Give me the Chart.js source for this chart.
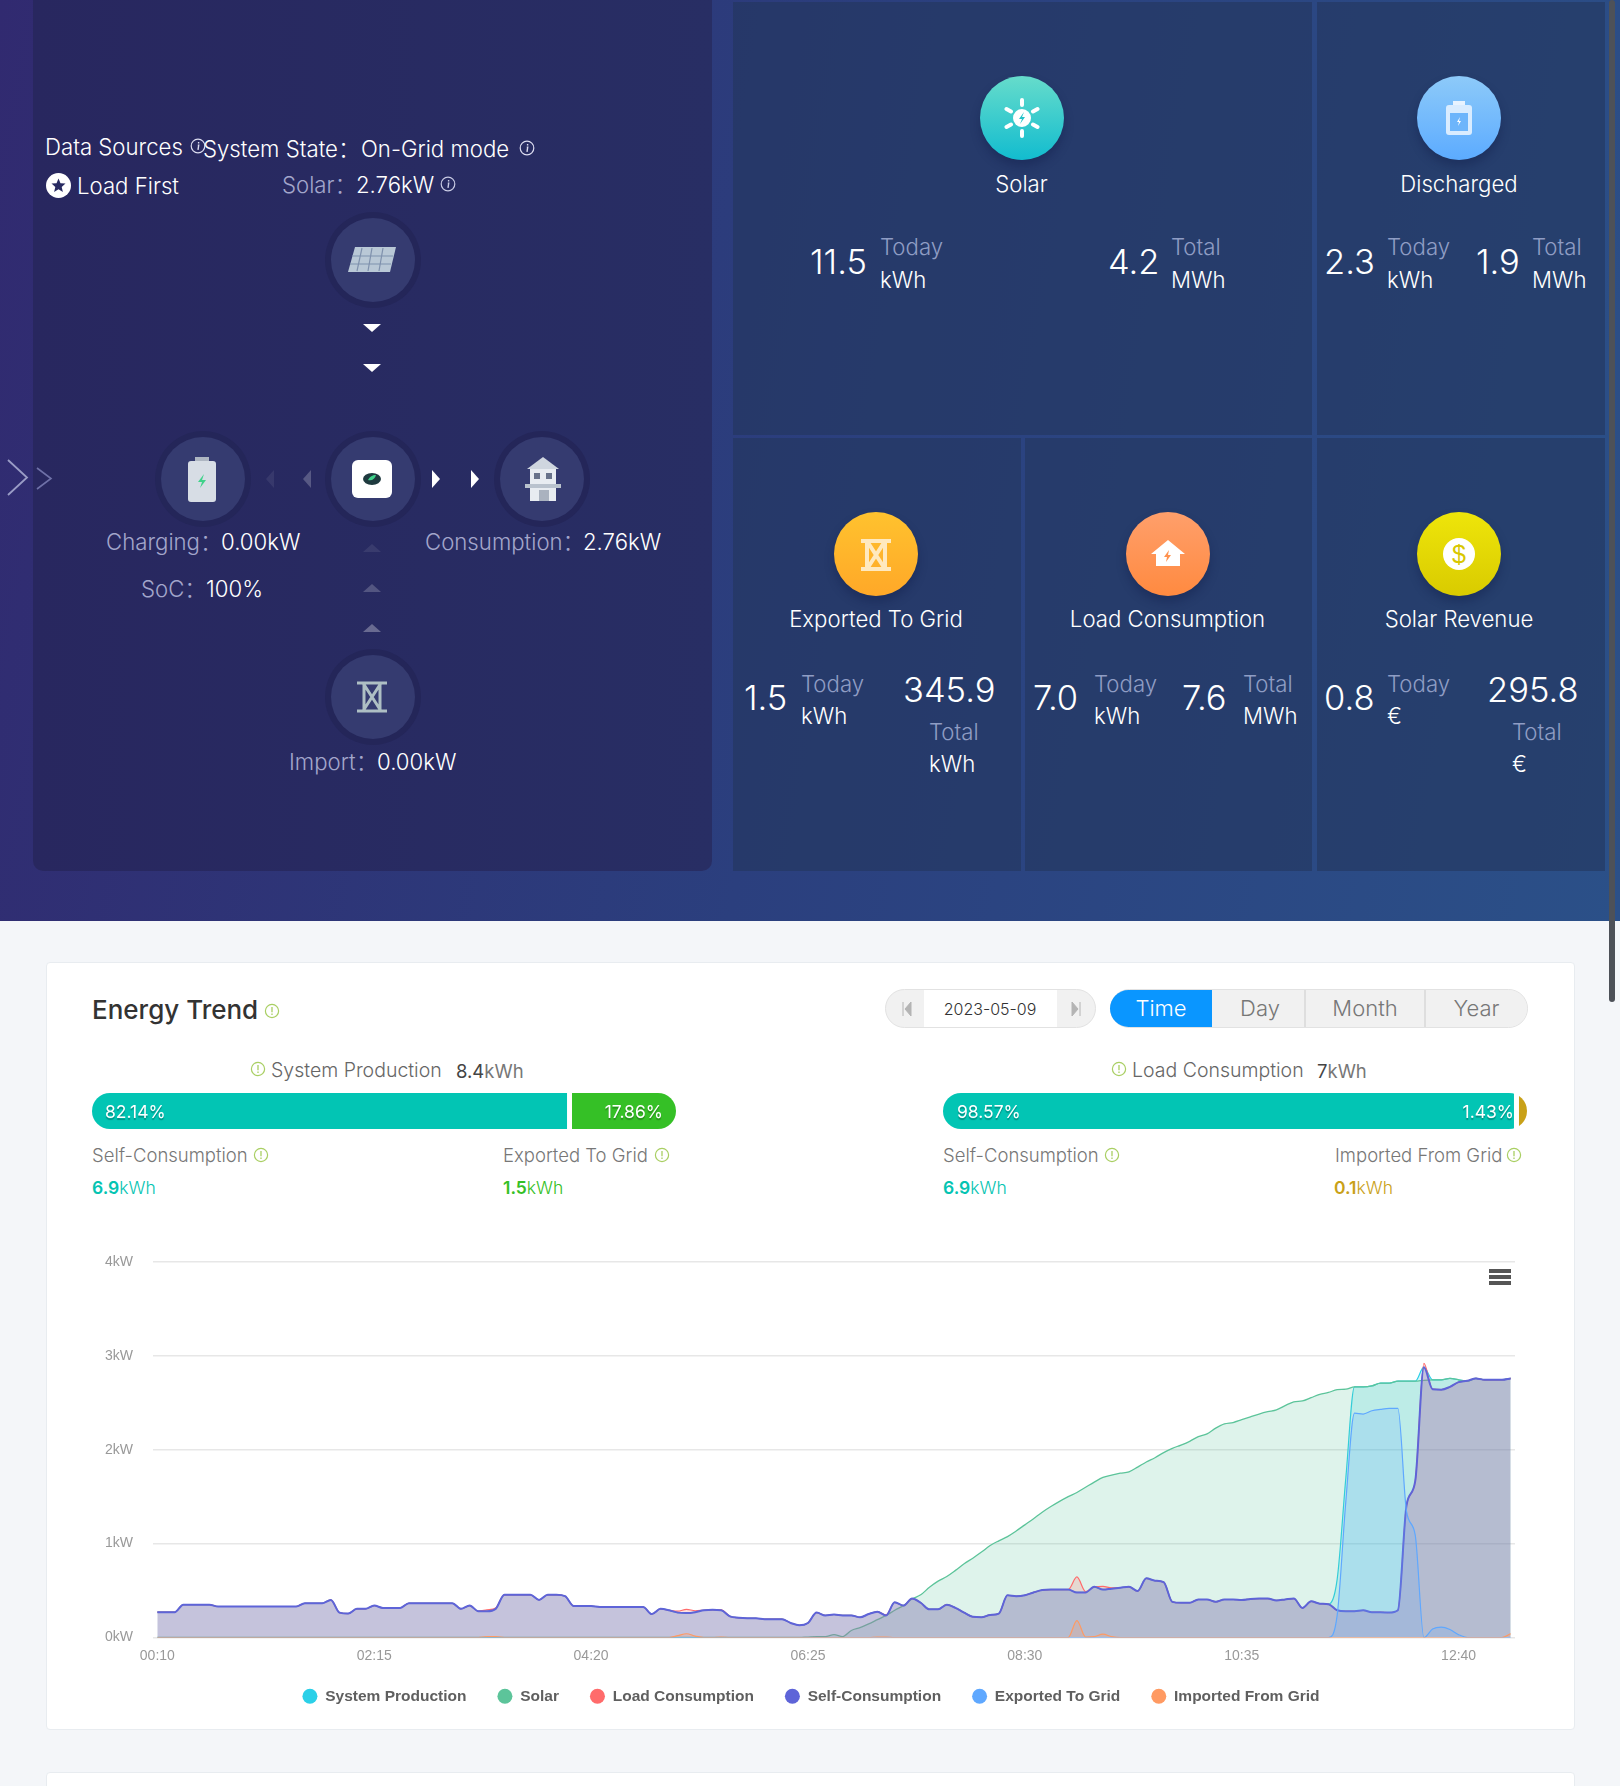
<!DOCTYPE html>
<html><head><meta charset="utf-8"><title>Energy Trend</title>
<script src="https://cdn.jsdelivr.net/npm/chart.js@4/dist/chart.umd.js"></script>
<style>
html,body{margin:0;padding:0;width:1620px;height:1786px;overflow:hidden;background:#f4f6f9;font-family:Inter,"Noto Sans CJK SC",sans-serif}
#root{position:relative;width:1620px;height:1786px;overflow:hidden}
.a{position:absolute}
.t{position:absolute;white-space:nowrap;transform:translateY(-50%);line-height:1}
.c{transform:translate(-50%,-50%)}
.r{transform:translate(-100%,-50%)}
#hero{left:0;top:0;width:1620px;height:921px;background:linear-gradient(100deg,#312a70 0%,#2b3f7e 50%,#2b5088 100%)}
#panel{left:33px;top:-10px;width:679px;height:881px;border-radius:10px;background:linear-gradient(90deg,#28275f,#282e64)}
.tile{position:absolute;background:rgba(34,54,92,.58)}
.w{color:#fff;font-size:22.200px;font-weight:300}
.d{color:#a3a6cb;font-size:22.200px;font-weight:300}
.n{color:#fff;font-size:34.500px;font-weight:300}
.l{color:#8f9dc4;font-size:22.200px;font-weight:300}
.card{position:absolute;background:#fff;border:1px solid #e8ecf0;border-radius:4px;box-sizing:border-box}
.node{position:absolute;width:84px;height:84px;margin:-42px 0 0 -42px;border-radius:50%;background:#353b70;box-shadow:0 0 0 6px #242659}
.ic{position:absolute;width:84px;height:84px;margin:-42px 0 0 -42px;border-radius:50%;box-shadow:0 6px 10px rgba(15,25,70,.35)}
.g{color:#666;font-size:19.500px;font-weight:300}
.s{color:#777;font-size:18.500px;font-weight:300}
.v{font-size:17.500px;font-weight:300}
.v b{font-weight:600}
.tab{position:absolute;top:990px;height:37px;line-height:37px;text-align:center;font-size:22px;font-weight:300;color:#777;background:#f1f1f1;border-right:2px solid #dedede;box-sizing:border-box}
.pct{color:#fff;font-size:17.500px;font-weight:400;text-shadow:0 2px 1px rgba(0,0,0,.28)}
canvas{display:block}
#barLeft,#barRight{border-radius:18px}
</style></head><body><div id="root">
<div id="hero" class="a"></div><div id="panel" class="a"></div>
<div class="tile" style="left:733px;top:2px;width:579px;height:433px"></div>
<div class="tile" style="left:1317px;top:2px;width:288px;height:433px"></div>
<div class="tile" style="left:733px;top:438px;width:288px;height:433px"></div>
<div class="tile" style="left:1025px;top:438px;width:287px;height:433px"></div>
<div class="tile" style="left:1317px;top:438px;width:288px;height:433px"></div>
<div class="a" style="left:1609px;top:0;width:6px;height:1002px;background:#4d5158;border-radius:3px"></div>
<div id="layer"></div>

<div class="card" style="left:46px;top:962px;width:1529px;height:768px"></div>
<div class="card" style="left:46px;top:1772px;width:1529px;height:40px"></div>

<canvas id="barLeft" class="a" style="left:92px;top:1093px" width="584" height="36"></canvas>
<canvas id="barRight" class="a" style="left:943px;top:1093px" width="584" height="36"></canvas>
<canvas id="trend" class="a" style="left:46px;top:1241px" width="1588" height="473"></canvas>

<div class="a" style="left:885px;top:989px;width:211px;height:39px;border-radius:20px;background:#f1f1f1;border:1px solid #e2e2e2;box-sizing:border-box"></div>
<div class="a" style="left:924px;top:990px;width:133px;height:37px;background:#fff"></div>
<div class="a" style="left:1110px;top:989px;width:418px;height:39px;border-radius:20px;background:#f1f1f1;border:1px solid #e2e2e2;box-sizing:border-box"></div>
<div class="tab" style="left:1212px;width:94px;padding-left:4px">Day</div>
<div class="tab" style="left:1306px;width:120px">Month</div>
<div class="tab" style="left:1426px;width:101px;border-right:0;border-radius:0 19px 19px 0">Year</div>
<div class="tab" style="left:1110px;width:102px;border-right:0;background:#0a96ff;color:#fff;border-radius:19px 0 0 19px">Time</div>
<div class="a" style="left:1489px;top:1269px;width:22px;height:3.5px;background:#555"></div>
<div class="a" style="left:1489px;top:1275px;width:22px;height:3.5px;background:#555"></div>
<div class="a" style="left:1489px;top:1281px;width:22px;height:3.5px;background:#555"></div>
</div>
<script>
const timeLabels=["00:10","00:15","00:20","00:25","00:30","00:35","00:40","00:45","00:50","00:55",
"01:00","01:05","01:10","01:15","01:20","01:25","01:30","01:35","01:40","01:45",
"01:50","01:55","02:00","02:05","02:10","02:15","02:20","02:25","02:30","02:35",
"02:40","02:45","02:50","02:55","03:00","03:05","03:10","03:15","03:20","03:25",
"03:30","03:35","03:40","03:45","03:50","03:55","04:00","04:05","04:10","04:15",
"04:20","04:25","04:30","04:35","04:40","04:45","04:50","04:55","05:00","05:05",
"05:10","05:15","05:20","05:25","05:30","05:35","05:40","05:45","05:50","05:55",
"06:00","06:05","06:10","06:15","06:20","06:25","06:30","06:35","06:40","06:45",
"06:50","06:55","07:00","07:05","07:10","07:15","07:20","07:25","07:30","07:35",
"07:40","07:45","07:50","07:55","08:00","08:05","08:10","08:15","08:20","08:25",
"08:30","08:35","08:40","08:45","08:50","08:55","09:00","09:05","09:10","09:15",
"09:20","09:25","09:30","09:35","09:40","09:45","09:50","09:55","10:00","10:05",
"10:10","10:15","10:20","10:25","10:30","10:35","10:40","10:45","10:50","10:55",
"11:00","11:05","11:10","11:15","11:20","11:25","11:30","11:35","11:40","11:45",
"11:50","11:55","12:00","12:05","12:10","12:15","12:20","12:25","12:30","12:35",
"12:40","12:45","12:50","12:55","13:00","13:05","13:10"];
const shownTimes=["00:10","02:15","04:20","06:25","08:30","10:35","12:40"];
const powerTicks=[0,1,2,3,4];
const seriesNames=["System Production","Solar","Load Consumption","Self-Consumption","Exported To Grid","Imported From Grid"];
const selfConsumption=[.27,.27,.27,.35,.35,.35,.35,.33,.33,.33,
.33,.33,.33,.33,.33,.33,.33,.365,.365,.365,
.40,.265,.255,.305,.305,.34,.315,.315,.315,.365,
.365,.365,.365,.365,.365,.305,.34,.28,.28,.305,
.455,.455,.455,.455,.40,.455,.455,.44,.335,.335,
.335,.325,.325,.325,.325,.325,.325,.25,.305,.29,
.265,.26,.27,.29,.295,.29,.225,.21,.205,.205,
.195,.195,.195,.155,.13,.155,.265,.235,.245,.235,
.235,.215,.25,.275,.235,.375,.34,.415,.37,.30,
.30,.35,.315,.265,.22,.215,.24,.255,.45,.44,
.45,.48,.505,.51,.51,.51,.48,.48,.54,.51,
.52,.53,.54,.495,.63,.605,.59,.38,.37,.37,
.405,.405,.38,.405,.405,.40,.41,.415,.415,.395,
.405,.415,.315,.385,.36,.355,.29,.28,.28,.29,
.27,.27,.265,.29,1.41,1.665,2.88,2.645,2.64,2.67,
2.72,2.735,2.76,2.745,2.745,2.745,2.76];
const loadConsumption=[.27,.27,.27,.35,.35,.35,.35,.33,.33,.33,
.33,.33,.33,.33,.33,.33,.33,.365,.365,.365,
.40,.265,.255,.305,.305,.34,.315,.315,.315,.365,
.365,.365,.365,.365,.365,.305,.34,.28,.295,.315,
.455,.455,.455,.455,.40,.455,.455,.44,.335,.335,
.335,.325,.325,.325,.325,.325,.325,.25,.305,.29,
.28,.30,.285,.29,.295,.295,.225,.21,.205,.205,
.195,.195,.195,.155,.13,.155,.265,.235,.245,.235,
.235,.215,.25,.275,.24,.375,.34,.415,.37,.30,
.30,.35,.315,.265,.22,.215,.24,.255,.45,.44,
.45,.48,.505,.51,.51,.51,.645,.49,.54,.545,
.53,.53,.54,.495,.63,.605,.59,.38,.37,.37,
.405,.405,.38,.405,.405,.40,.41,.415,.415,.395,
.405,.415,.315,.385,.36,.355,.29,.28,.28,.29,
.27,.27,.265,.29,1.41,1.665,2.92,2.645,2.64,2.67,
2.72,2.735,2.76,2.745,2.745,2.745,2.76];
const systemProduction=[.27,.27,.27,.35,.35,.35,.35,.33,.33,.33,
.33,.33,.33,.33,.33,.33,.33,.365,.365,.365,
.40,.265,.255,.305,.305,.34,.315,.315,.315,.365,
.365,.365,.365,.365,.365,.305,.34,.28,.28,.305,
.455,.455,.455,.455,.40,.455,.455,.44,.335,.335,
.335,.325,.325,.325,.325,.325,.325,.25,.305,.29,
.265,.26,.27,.29,.295,.29,.225,.21,.205,.205,
.195,.195,.195,.155,.13,.155,.265,.235,.245,.235,
.235,.215,.25,.275,.235,.375,.34,.415,.37,.30,
.30,.35,.315,.265,.22,.215,.24,.255,.45,.44,
.45,.48,.505,.51,.51,.51,.48,.48,.54,.51,
.52,.53,.54,.495,.63,.605,.59,.38,.37,.37,
.405,.405,.38,.405,.405,.40,.41,.415,.415,.395,
.405,.415,.315,.385,.36,.355,.62,1.70,2.67,2.67,
2.68,2.71,2.71,2.73,2.73,2.73,2.88,2.745,2.745,2.76,
2.745,2.73,2.76,2.745,2.745,2.745,2.76];
const solar=[0,0,0,0,0,0,0,0,0,0, 0,0,0,0,0,0,0,0,0,0, 0,0,0,0,0,0,0,0,0,0,
0,0,0,0,0,0,0,0,0,0, 0,0,0,0,0,0,0,0,0,0, 0,0,0,0,0,0,0,0,0,0, 0,0,0,0,0,0,0,0,0,0,
0,0,0,0,0,.005,.01,.01,.03,.01,
.075,.105,.145,.19,.235,.29,.34,.41,.455,.535,
.60,.65,.715,.785,.845,.91,.98,1.03,1.075,1.135,
1.20,1.265,1.335,1.395,1.45,1.50,1.545,1.60,1.655,1.705,
1.73,1.75,1.765,1.815,1.87,1.915,1.97,2.015,2.05,2.09,
2.14,2.17,2.23,2.275,2.29,2.32,2.35,2.38,2.405,2.425,
2.47,2.51,2.52,2.555,2.59,2.61,2.64,2.645,2.67,2.67,
2.68,2.71,2.71,2.73,2.73,2.73,2.74,2.745,2.745,2.76,
2.745,2.73,2.76,2.745,2.745,2.745,2.76];
const exportedToGrid=[0,0,0,0,0,0,0,0,0,0, 0,0,0,0,0,0,0,0,0,0, 0,0,0,0,0,0,0,0,0,0,
0,0,0,0,0,0,0,0,0,0, 0,0,0,0,0,0,0,0,0,0, 0,0,0,0,0,0,0,0,0,0, 0,0,0,0,0,0,0,0,0,0,
0,0,0,0,0,0,0,0,0,0, 0,0,0,0,0,0,0,0,0,0, 0,0,0,0,0,0,0,0,0,0, 0,0,0,0,0,0,0,0,0,0,
0,0,0,0,0,0,0,0,0,0, 0,0,0,0,0,0,0,0,0,0,
0,0,0,0,0,0,.235,1.45,2.39,2.38,
2.415,2.43,2.44,2.44,1.34,1.09,0,.09,.11,.085,
.03,0,0,0,0,0,0];
const importedFromGrid=[0,0,0,0,0,0,0,0,0,0, 0,0,0,0,0,0,0,0,0,0, 0,0,0,0,0,0,0,0,0,0,
0,0,0,0,0,0,0,0,.01,.01, 0,0,0,0,0,0,0,0,0,0, 0,0,0,0,0,0,0,0,0,0,
.02,.04,.015,0,0,.005,0,0,0,0, 0,0,0,0,0,0,0,0,0,0,
0,0,0,.005,.005,0,0,0,0,0, 0,0,0,0,0,0,0,0,0,0,
0,0,0,0,0,0,.18,.005,.01,.035,
.01,0,0,0,0,0,0,0,0,0, 0,0,0,0,0,0,0,0,0,0, 0,0,0,0,0,0,0,0,0,0, 0,0,0,0,0,0,0,0,0,0,
0,0,0,0,0,0,.04,0,0,0,
0,0,0,0,0,0,0];
const lineColors=["#2bd0e8","#5cc49a","#ff6b6b","#5e64d8","#5fa8ff","#ff9a62"];
const lineWidths=[1.2,1.3,1.2,2,1.2,1.2];
const productionShares=[82.14,17.86];
const consumptionShares=[98.57,1.43];
const shareColorsLeft=["#02c5b4","#35c026"];
const shareColorsRight=["#02c5b4","#c9a118"];

/* ---- static hero text ---- */
const I=(x,y,col)=>`<svg class="a" style="left:${x-8}px;top:${y-8}px" width="16" height="16" viewBox="0 0 16 16"><circle cx="8" cy="8" r="6.8" fill="none" stroke="${col}" stroke-width="1.2"/><path d="M8.6 4v1.6M7.8 7.2h.9l-.7 4.6" fill="none" stroke="${col}" stroke-width="1.4"/></svg>`;
const G=(x,y)=>`<svg class="a" style="left:${x-8}px;top:${y-8}px;z-index:3" width="16" height="16" viewBox="0 0 16 16"><circle cx="8" cy="8" r="6.6" fill="none" stroke="#a9cf63" stroke-width="1.2"/><path d="M8 4v5.2M8 10.6v1.4" fill="none" stroke="#a9cf63" stroke-width="1.3"/></svg>`;
const T=(x,y,s,cls,extra)=>`<span class="t ${cls}" style="left:${x}px;top:${y}px;z-index:3;${extra||''}">${s}</span>`;
const Tri=(x,y,dir,op)=>{const r={d:0,u:180,l:90,r:-90}[dir];return `<svg class="a" style="left:${x-10}px;top:${y-10}px;opacity:${op};transform:rotate(${r}deg)" width="20" height="20" viewBox="0 0 20 20"><path d="M1 6h18l-9 8z" fill="#fff"/></svg>`;};
let h='';
[[373,259.5],[203,479],[373,479],[542,479],[373,697]].forEach(p=>{h+=`<div class="node" style="left:${p[0]}px;top:${p[1]}px"></div>`;});
h+=Tri(372,328,'d',1)+Tri(372,368,'d',1)+Tri(270,479,'l',.07)+Tri(307,479,'l',.22)+Tri(436,479,'r',1)+Tri(475,479,'r',1)+Tri(372,548,'u',.08)+Tri(372,588,'u',.2)+Tri(372,628,'u',.3);
h+=`<svg class="a" style="left:346px;top:243px" width="52" height="34" viewBox="0 0 52 34"><path d="M9 4H50L44 29H2z" fill="#b9c8d6"/><path d="M16 5 11 28M26 5 22 28M37 5 33 28M6 13H47M4 21H45" stroke="#7f91ad" stroke-width="1.2"/></svg>`;
h+=`<svg class="a" style="left:187px;top:457px" width="30" height="46" viewBox="0 0 30 46"><rect x="8" y="0" width="14" height="6" fill="#aeb6c2"/><rect x="1" y="4" width="28" height="41" rx="3" fill="#d7dde5"/><path d="M17 17l-6 8h4l-2 6 6-8h-4z" fill="#3fd28a"/></svg>`;
h+=`<svg class="a" style="left:352px;top:459px" width="40" height="40" viewBox="0 0 40 40"><rect x="0" y="1" width="40" height="38" rx="6" fill="#fff"/><ellipse cx="20" cy="20" rx="9" ry="6" fill="#1f3a3f"/><path d="M16 21c3-5 6-5 8-5-1 4-4 6-8 5z" fill="#3fd28a"/></svg>`;
h+=`<svg class="a" style="left:525px;top:456px" width="36" height="46" viewBox="0 0 36 46"><path d="M18 1 34 13H2z" fill="#cfd6df"/><rect x="5" y="13" width="26" height="32" fill="#e8ecf1"/><rect x="0" y="28" width="36" height="4" fill="#b9c2cd"/><rect x="9" y="17" width="6" height="6" fill="#68728a"/><rect x="21" y="17" width="6" height="6" fill="#68728a"/><rect x="14" y="34" width="10" height="11" fill="#aab2bf"/></svg>`;
h+=`<svg class="a" style="left:357px;top:680px" width="30" height="34" viewBox="0 0 30 34"><path d="M0 3h30M0 31h30M6 3 24 31M24 3 6 31M7 3v28M23 3v28" stroke="#aebfc4" stroke-width="3" fill="none"/></svg>`;
h+=`<svg class="a" style="left:7px;top:459px" width="22" height="37" viewBox="0 0 22 37"><path d="M1 1 20 18.500 1 36" fill="none" stroke="#9a9cc6" stroke-width="1.8"/></svg>`;
h+=`<svg class="a" style="left:36px;top:467px" width="17" height="23" viewBox="0 0 17 23"><path d="M1 1 15 11.500 1 22" fill="none" stroke="#6f71a8" stroke-width="1.6"/></svg>`;
h+=`<svg class="a" style="left:45.500px;top:172.500px" width="25" height="25" viewBox="0 0 25 25"><circle cx="12.500" cy="12.500" r="12.500" fill="#fff"/><path d="M12.500 5.500l2 4.700 5 .4-3.800 3.300 1.200 5-4.400-2.700-4.400 2.700 1.200-5-3.800-3.300 5-.4z" fill="#282a62"/></svg>`;
h+=T(45,147,'Data Sources','w')+I(198,146,'#dcdcf0')+T(203,149,'System State：','w')+T(361,149,'On-Grid mode','w')+I(527,148,'#dcdcf0');
h+=T(77,186,'Load First','w')+T(282,185,'Solar：','d')+T(356,185,'2.76kW','w')+I(448,184,'#c9cbe4');
h+=T(106,542,'Charging：','d')+T(221,542,'0.00kW','w')+T(425,542,'Consumption：','d')+T(583,542,'2.76kW','w');
h+=T(141,589,'SoC：','d')+T(206,589,'100%','w')+T(289,762,'Import：','d')+T(377,762,'0.00kW','w');
const icon=(x,y,bg,inner)=>`<div class="ic" style="left:${x}px;top:${y}px;background:${bg}"></div><svg class="a" style="left:${x-26}px;top:${y-26}px" width="52" height="52" viewBox="0 0 52 52">${inner}</svg>`;
h+=icon(1021.5,118,'linear-gradient(180deg,#66dccb,#12bccf)','<circle cx="26" cy="26" r="9" fill="#fff"/><path d="M26 8v5M26 39v5M10.500 17l4.500 2.500M37 32.500l4.500 2.500M41.500 17 37 19.500M15 32.500 10.500 35" stroke="#fff" stroke-width="4" stroke-linecap="round"/><path d="M28 20l-5 7h3l-2 5 5-7h-3z" fill="#22c3c9"/>');
h+=icon(1459,118,'linear-gradient(180deg,#8dcaf9,#5cabff)','<rect x="20" y="9" width="12" height="4" fill="#e8f3ff"/><rect x="13" y="13" width="26" height="30" rx="3" fill="#d9ecff"/><rect x="17" y="21" width="18" height="18" fill="#6db5fb"/><path d="M27 25l-3 5h2l-1 4 3-5h-2z" fill="#fff"/>');
h+=icon(876,554,'linear-gradient(180deg,#ffc22e,#ffa828)','<path d="M11 13h30M11 41h30M17 13 35 41M35 13 17 41M17 13v28M35 13v28" stroke="#ffe9bf" stroke-width="4" fill="none"/>');
h+=icon(1167.500,554,'linear-gradient(180deg,#ff9f6b,#ff8a40)','<path d="M26 12 43 26h-5v12H14V26H9z" fill="#fff"/><path d="M27 22l-5 7h3l-1 5 5-7h-3z" fill="#ff9350"/>');
h+=icon(1459,554,'linear-gradient(180deg,#eee50a,#d9cb00)','<circle cx="26" cy="26" r="16" fill="#fff"/>')+T(1459,554,'$','c','color:#d8c700;font-size:25px;font-family:Liberation Sans');
[[1021.5,184,'Solar'],[1459,184,'Discharged'],[876,619,'Exported To Grid'],[1167.500,619,'Load Consumption'],[1459,619,'Solar Revenue']].forEach(a=>{h+=T(a[0],a[1],a[2],'w c');});
const stat=(nx,ny,num,lx,u,ty,uy,name)=>T(nx,ny,num,'n')+T(lx,ty,name,'l')+T(lx,uy,u,'w');
h+=stat(810,262,'11.5',880,'kWh',247,280,'Today')+stat(1108,262,'4.2',1171,'MWh',247,280,'Total');
h+=stat(1324,262,'2.3',1387,'kWh',247,280,'Today')+stat(1476,262,'1.9',1532,'MWh',247,280,'Total');
h+=stat(744,698,'1.5',801,'kWh',684,716,'Today')+stat(903,690,'345.9',929,'kWh',732,764,'Total');
h+=stat(1033,698,'7.0',1094,'kWh',684,716,'Today')+stat(1182,698,'7.6',1243,'MWh',684,716,'Total');
h+=stat(1324,698,'0.8',1387,'€',684,716,'Today')+stat(1487,690,'295.8',1512,'€',732,764,'Total');
h+=T(92,1009.500,'Energy Trend','','font-size:26px;font-weight:500;color:#333')+G(272,1011);
h+=G(258,1069)+T(271,1070.500,'System Production','g')+T(456,1070.500,'8.4<span style="color:#777">kWh</span>','g','color:#444;font-weight:400;font-size:18.500px');
h+=G(1119,1069)+T(1132,1070.500,'Load Consumption','g')+T(1317,1070.500,'7<span style="color:#777">kWh</span>','g','color:#444;font-weight:400;font-size:18.500px');
h+=T(105,1112,'82.14%','pct')+T(663,1112,'17.86%','pct r')+T(957,1112,'98.57%','pct')+T(1514,1112,'1.43%','pct r');
h+=T(92,1155,'Self-Consumption','s')+G(261,1155)+T(503,1155,'Exported To Grid','s')+G(662,1155);
h+=T(943,1155,'Self-Consumption','s')+G(1112,1155)+T(1335,1155,'Imported From Grid','s')+G(1514,1155);
const val=(x,n,c)=>T(x,1188,`<b>${n}</b>kWh`,'v',`color:${c}`);
h+=val(92,'6.9','#05c4b2')+val(503,'1.5','#35c026')+val(943,'6.9','#05c4b2')+val(1334,'0.1','#c9a118');
h+=T(990,1009,'2023-05-09','c','font-size:16px;color:#333;font-weight:300');
h+=`<svg class="a" style="left:902px;top:1001px;z-index:3" width="10" height="16" viewBox="0 0 10 16"><path d="M1 1v14M9 1 3 8l6 7z" fill="#b4b4b4" stroke="#b4b4b4"/></svg><svg class="a" style="left:1071px;top:1001px;z-index:3" width="10" height="16" viewBox="0 0 10 16"><path d="M9 1v14M1 1l6 7-6 7z" fill="#b4b4b4" stroke="#b4b4b4"/></svg>`;
document.getElementById('layer').innerHTML=h;

/* ---- charts ---- */
const shareChart=(id,values,colors)=>new Chart(document.getElementById(id),{type:'bar',
 data:{labels:['share'],datasets:[
  {data:[values[0]],backgroundColor:colors[0],borderColor:'#fff',borderWidth:{right:5},borderSkipped:false,barPercentage:1,categoryPercentage:1},
  {data:[values[1]],backgroundColor:colors[1],borderWidth:0,barPercentage:1,categoryPercentage:1}]},
 options:{indexAxis:'y',responsive:false,animation:false,devicePixelRatio:1,layout:{padding:0},
  plugins:{legend:{display:false},tooltip:{enabled:false}},
  scales:{x:{display:false,stacked:true,min:0,max:100},y:{display:false,stacked:true}}}});
shareChart('barLeft',productionShares,shareColorsLeft);
shareChart('barRight',consumptionShares,shareColorsRight);

const seriesData=[systemProduction,solar,loadConsumption,selfConsumption,exportedToGrid,importedFromGrid];
const hexA=(c,a)=>{const n=parseInt(c.slice(1),16);return `rgba(${n>>16},${(n>>8)&255},${n&255},${a})`;};
new Chart(document.getElementById('trend'),{type:'line',
 plugins:[{id:'keepTickLabels',afterLayout(c){c.scales.x.bottom+=14;c.scales.y.left-=30;}}],
 data:{labels:timeLabels,datasets:seriesNames.map((name,i)=>({label:name,data:seriesData[i],order:5-i,
   borderColor:lineColors[i],backgroundColor:hexA(lineColors[i],.2),borderWidth:lineWidths[i],
   fill:'origin',pointRadius:0,cubicInterpolationMode:'monotone'}))},
 options:{responsive:false,animation:false,devicePixelRatio:1,
  layout:{padding:{left:61,right:119,top:21,bottom:0}},
  plugins:{tooltip:{enabled:false},
   legend:{position:'bottom',labels:{usePointStyle:true,pointStyle:'circle',pointStyleWidth:15,boxHeight:10.600,padding:31,
     color:'#5f5f5f',font:{family:'"Liberation Sans"',size:15.5,weight:'700'},
     generateLabels:c=>c.data.datasets.map((d,i)=>({text:d.label,fillStyle:lineColors[i],strokeStyle:lineColors[i],lineWidth:0,pointStyle:'circle',datasetIndex:i,fontColor:'#5f5f5f'}))}}},
  scales:{
   x:{type:'category',offset:true,border:{display:false},grid:{display:false,drawTicks:false},
      afterFit:s=>{s.height=20;},
      ticks:{autoSkip:false,maxRotation:0,minRotation:0,padding:10.500,color:'#999',font:{family:'"Liberation Sans"',size:14},
        callback:function(v){const l=this.getLabelForValue(v);return shownTimes.includes(l)?l:'';}}},
   y:{min:powerTicks[0],max:powerTicks[powerTicks.length-1],border:{display:false},
      grid:{color:'#e7e7e7',lineWidth:1.5,drawTicks:false},
      afterFit:s=>{s.width=46;s.paddingTop=0;s.paddingBottom=0;},
      ticks:{stepSize:1,padding:20,color:'#999',font:{family:'"Liberation Sans"',size:14},callback:v=>v+'kW'}}}
 }});
</script></body></html>
